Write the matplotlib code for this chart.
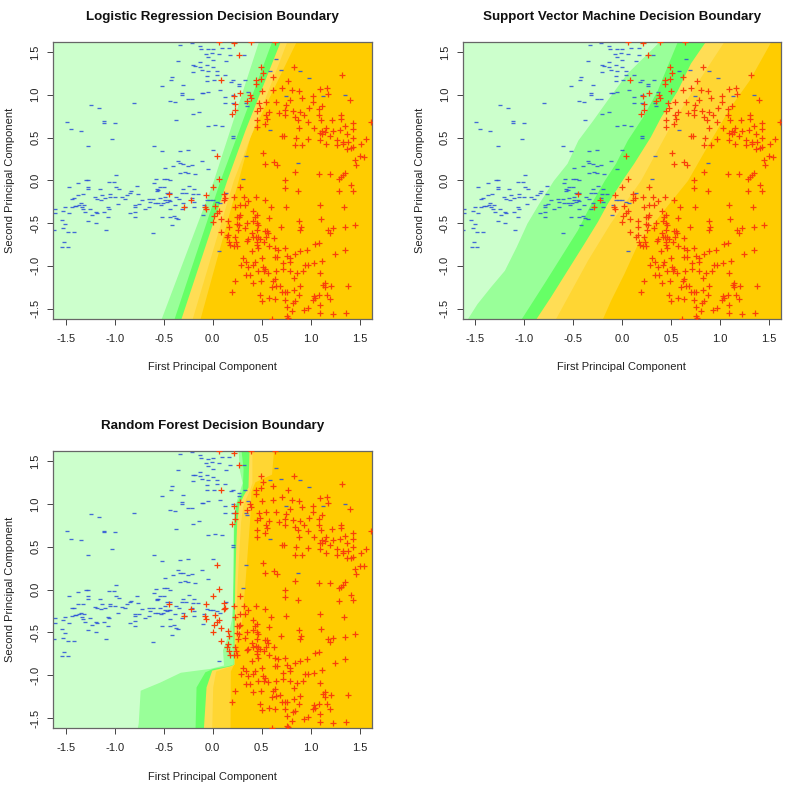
import matplotlib
matplotlib.use("Agg")
import matplotlib.pyplot as plt

plt.rcParams['font.family'] = ['Liberation Sans', 'DejaVu Sans']

red_x = [0.06,0.22,0.39,0.64,0.27,0.49,0.83,0.51,0.49,0.62,1.32,0.08,0.44,0.44,0.77,0.71,0.62,0.50,0.28,0.22,0.38,0.39,0.35,0.81,0.88,1.09,1.17,1.18,1.02,1.40,
0.23,0.23,0.20,0.47,0.54,0.65,0.79,0.91,1.02,1.12,0.745,0.74,0.82,0.89,0.98,1.08,0.48,0.45,0.57,0.68,0.74,0.84,0.87,0.93,1.08,1.22,1.31,1.31,0.54,0.55,0.53,0.45,0.455,1.61,
0.885,0.97,1.10,1.03,1.435,1.435,1.35,1.30,1.16,1.12,1.095,1.12,1.145,1.23,1.20,1.37,1.435,1.56,1.51,
0.705,0.73,0.85,0.975,0.84,0.91,1.095,1.16,1.27,1.27,1.33,1.33,1.385,1.435,1.37,1.41,
0.04,0.51,1.54,1.50,1.45,1.46,0.53,0.63,0.66,0.84,1.08,1.20,1.35,1.33,1.31,1.29,
0.065,0.74,0.0,0.28,0.74,0.875,1.41,1.435,1.29,
-0.45,-0.07,0.115,0.13,0.115,0.22,0.32,0.44,0.53,0.365,-0.22,-0.29,-0.08,-0.07,0.02,0.06,0.04,0.01,0.0,0.08,0.08,
0.23,0.28,0.33,0.28,0.595,0.745,1.09,1.34,0.57,0.41,0.455,0.43,0.25,0.265,1.105,0.885,0.90,0.89,1.18,1.23,1.20,1.35,1.455,0.70,
0.16,0.25,0.27,0.35,0.33,0.26,0.165,0.16,0.145,0.17,0.23,0.24,0.18,0.22,0.25,
0.415,0.45,0.465,0.45,0.53,0.55,0.56,0.54,0.63,0.405,0.365,0.354,
0.415,0.44,0.465,0.48,0.45,0.455,0.465,0.52,0.57,0.40,
0.635,0.67,0.74,0.76,0.635,0.66,0.79,0.79,0.84,0.89,0.96,1.045,1.08,1.345,1.25,1.11,0.94,0.975,1.03,0.72,
0.31,0.34,0.285,0.365,0.43,0.415,0.50,0.51,0.535,0.52,0.56,0.465,0.34,0.38,0.41,0.49,0.23,0.195,
0.72,0.645,0.79,0.855,0.925,0.83,1.09,0.635,0.62,0.60,0.65,0.69,0.89,1.145,1.13,1.145,1.205,1.385,
0.48,0.705,0.74,0.76,0.825,0.88,1.03,1.045,1.02,1.08,1.165,1.20,0.505,0.57,0.635,0.74,0.84,
0.815,0.755,0.805,0.755,0.93,0.975,1.09,1.09,1.23,1.355,0.61,0.77]
red_y = [1.62,1.60,1.62,1.62,1.46,1.33,1.33,1.26,1.19,1.21,1.23,1.17,1.17,1.12,1.16,1.08,1.05,1.04,1.02,0.98,1.0,0.96,0.93,1.05,1.04,1.07,1.08,1.01,0.98,0.94,
0.89,0.82,0.77,0.90,0.91,0.91,0.94,0.96,0.91,0.87,0.88,0.82,0.81,0.80,0.84,0.83,0.84,0.81,0.80,0.79,0.76,0.735,0.70,0.76,0.76,0.71,0.76,0.72,0.76,0.72,0.66,0.70,0.62,0.685,
0.61,0.685,0.70,0.61,0.665,0.595,0.63,0.59,0.61,0.58,0.55,0.54,0.57,0.58,0.52,0.54,0.50,0.48,0.43,
0.52,0.52,0.495,0.485,0.41,0.41,0.47,0.425,0.47,0.41,0.45,0.43,0.45,0.385,0.365,0.375,
0.29,0.315,0.275,0.28,0.24,0.18,0.19,0.22,0.185,0.10,0.08,0.08,0.09,0.06,0.035,0.015,
0.01,0.0,-0.075,-0.08,-0.085,-0.12,-0.06,-0.12,-0.13,
-0.165,-0.17,-0.16,-0.21,-0.23,-0.19,-0.19,-0.19,-0.23,-0.24,-0.23,-0.31,-0.31,-0.34,-0.30,-0.355,-0.38,-0.415,-0.49,-0.45,-0.60,
-0.315,-0.29,-0.29,-0.41,-0.315,-0.31,-0.29,-0.315,-0.435,-0.355,-0.40,-0.425,-0.43,-0.425,-0.455,-0.475,-0.54,-0.58,-0.58,-0.56,-0.61,-0.55,-0.52,-0.54,
-0.48,-0.51,-0.52,-0.50,-0.56,-0.58,-0.54,-0.64,-0.665,-0.715,-0.665,-0.715,-0.76,-0.765,-0.765,
-0.47,-0.495,-0.52,-0.58,-0.59,-0.59,-0.62,-0.665,-0.67,-0.62,-0.69,-0.705,
-0.665,-0.66,-0.665,-0.69,-0.715,-0.755,-0.795,-0.715,-0.765,-0.83,
-0.795,-0.81,-0.795,-0.885,-0.89,-0.89,-0.91,-0.95,-0.86,-0.83,-0.815,-0.745,-0.73,-0.815,-0.86,-0.94,-0.99,-0.99,-0.97,-0.97,
-0.91,-0.95,-0.99,-1.01,-0.95,-0.99,-0.91,-1.01,-1.03,-1.065,-1.08,-1.065,-1.105,-1.105,-1.20,-1.18,-1.18,-1.31,
-1.04,-1.065,-1.065,-1.085,-1.065,-1.145,-1.085,-1.155,-1.18,-1.25,-1.24,-1.235,-1.24,-1.195,-1.22,-1.25,-1.235,-1.235,
-1.34,-1.31,-1.31,-1.31,-1.28,-1.34,-1.35,-1.38,-1.40,-1.34,-1.34,-1.39,-1.41,-1.38,-1.39,-1.40,-1.415,
-1.435,-1.475,-1.53,-1.59,-1.51,-1.49,-1.455,-1.545,-1.56,-1.55,-1.62,-1.61]

blue_x = [-0.33,-0.21,-0.13,-0.12,-0.045,0.005,0.09,0.17,-0.07,-0.01,0.06,0.175,0.32,-0.045,0.005,0.14,-0.35,-0.13,-0.2,-0.18,-0.06,-0.13,0.005,-0.11,-0.045,0.04,-0.2,-0.06,0.04,0.125,-0.42,-0.425,-0.06,0.015,0.21,0.185,0.33,0.27,0.27,-0.52,-0.3,
0.075,-0.315,-0.11,-0.045,0.365,-0.095,-0.315,0.125,0.21,0.21,-0.25,-0.215,-0.435,-0.385,0.125,-0.8,-1.245,-1.16,0.34,0.345,-0.2,-0.135,-1.49,-1.11,-1.11,-1.0,-0.375,-0.045,0.025,0.09,-1.445,-1.345,-1.025,0.21,0.21,0.005,-1.27,-0.6,-0.52,-0.335,-0.25,-0.11,-0.35,-0.335,-0.3,-0.25,-0.21,-0.4,-0.485,-0.045,-0.25,-0.18,-0.28,-0.335,-0.99,
0.65,0.58,0.70,0.89,0.98,0.75,1.13,0.31,0.875,0.34,0.58,1.35,0.06,0.14,
-1.29,-1.27,-0.58,-0.5,-0.47,-0.44,-0.595,-1.06,-1.005,-1.37,-1.465,-1.27,-1.27,-1.15,-0.99,-0.96,-0.77,-0.54,-0.5,-0.57,-0.3,-0.24,-0.19,
-1.44,-1.415,-1.37,-1.325,-1.13,-1.05,-1.05,-1.2,-1.14,-1.18,-1.1,-1.0,-0.93,-0.895,-0.87,-0.84,-0.83,-0.76,-0.725,-0.65,-0.64,-0.605,-0.57,-0.555,-0.47,-0.435,-0.485,-0.54,-0.59,-0.555,-0.53,-0.505,-0.47,-0.45,-0.485,-0.435,-0.645,-0.69,-0.79,-0.79,-0.75,-0.84,-0.79,-0.79,-0.97,-1.065,-1.055,-1.105,-1.065,-1.19,-1.185,-1.19,-1.09,-1.27,-1.235,-1.25,-1.3,-1.345,-1.36,-1.335,-1.32,-1.31,-1.39,-1.44,-1.405,-1.47,-1.505,-1.525,-1.61,-1.61,-1.54,-1.505,-1.525,-1.48,-1.415,-1.62,-1.515,-1.535,-1.48,-0.605,
-0.515,-0.435,-0.395,-0.375,-0.35,-0.42,-0.315,-0.3,-0.28,-0.315,-0.27,-0.2,-0.155,-0.37,-0.34,-0.215,-0.195,-0.1,-0.09,-0.06,-0.03,0.005,0.04,0.075,-0.19,-0.385,-0.44]
blue_y = [1.58,1.61,1.57,1.54,1.53,1.54,1.55,1.55,1.48,1.49,1.48,1.46,1.46,1.44,1.41,1.40,1.40,1.38,1.345,1.335,1.345,1.33,1.32,1.29,1.28,1.28,1.27,1.22,1.23,1.23,1.21,1.17,1.165,1.17,1.17,1.15,1.17,1.125,1.10,1.10,1.11,
1.05,1.02,1.015,1.03,1.035,1.015,0.995,0.975,0.995,0.90,0.95,0.955,0.93,0.915,0.90,0.90,0.885,0.85,0.90,0.87,0.77,0.80,0.685,0.69,0.675,0.67,0.705,0.64,0.645,0.64,0.595,0.58,0.48,0.52,0.50,0.36,0.405,0.40,0.34,0.345,0.36,0.23,0.225,0.20,0.19,0.17,0.18,0.17,0.14,0.13,0.09,0.08,0.10,0.09,0.06,
1.42,1.28,1.29,1.28,1.20,0.98,0.98,0.02,0.20,0.29,0.59,1.0,-0.83,-0.15,
0.0,0.0,0.01,0.015,0.02,0.0,-0.035,-0.02,-0.015,-0.03,-0.08,-0.08,-0.105,-0.105,-0.08,-0.10,-0.07,-0.08,-0.08,-0.105,-0.105,-0.065,-0.105,
-0.22,-0.21,-0.17,-0.165,-0.17,-0.165,-0.19,-0.2,-0.23,-0.22,-0.21,-0.19,-0.2,-0.22,-0.17,-0.145,-0.13,-0.16,-0.23,-0.22,-0.25,-0.22,-0.12,-0.11,-0.145,-0.15,-0.19,-0.21,-0.27,-0.27,-0.29,-0.27,-0.25,-0.235,-0.235,-0.24,-0.31,-0.33,-0.29,-0.31,-0.28,-0.385,-0.43,-0.365,-0.275,-0.315,-0.335,-0.375,-0.43,-0.375,-0.385,-0.495,-0.58,-0.47,-0.41,-0.335,-0.375,-0.27,-0.29,-0.315,-0.34,-0.29,-0.3,-0.31,-0.3,-0.385,-0.315,-0.355,-0.33,-0.385,-0.46,-0.51,-0.56,-0.6,-0.6,-0.58,-0.725,-0.78,-0.775,-0.61,
-0.425,-0.425,-0.415,-0.445,-0.455,-0.525,-0.33,-0.27,-0.31,-0.15,-0.15,-0.16,-0.16,-0.19,-0.22,-0.21,-0.25,-0.405,-0.29,-0.23,-0.235,-0.235,-0.25,-0.27,-0.31,-0.29,-0.34]

# Class boundaries: (second component, first component) read along each edge
lr_y_light = [-1.62, 0.0, 1.62];           lr_x_light = [-0.527, 0.007, 0.466]
lr_y_mid = [-1.62, 0.0, 1.62];             lr_x_mid = [-0.395, 0.075, 0.60]
lr_y_bright = [-1.62, 0.0, 0.59, 1.62];    lr_x_bright = [-0.325, 0.143, 0.33, 0.687]
lr_y_yellow = [-1.62, 0.0, 1.62];          lr_x_yellow = [-0.21, 0.21, 0.755]
lr_y_gold = [-1.62, 0.0, 0.51, 1.62];      lr_x_gold = [-0.13, 0.26, 0.38, 0.85]

svm_y_light = [-1.62,-1.44,-1.24,-1.05,-0.775,-0.50,-0.27,0.0,0.20,0.47,0.70,0.94,1.25,1.62]
svm_x_light = [-1.58,-1.48,-1.34,-1.20,-1.08,-0.97,-0.85,-0.70,-0.56,-0.45,-0.30,-0.15,0.05,0.38]
svm_y_mid = [-1.62,-1.20,-0.89,-0.58,-0.31,0.0,0.20,0.47,0.74,1.05,1.33,1.62]
svm_x_mid = [-1.03,-0.795,-0.625,-0.455,-0.335,-0.18,-0.065,0.055,0.21,0.36,0.46,0.565]
svm_y_bright = [-1.62,-1.36,-1.05,-0.74,-0.48,-0.27,0.0,0.20,0.51,0.74,1.05,1.37,1.62]
svm_x_bright = [-0.88,-0.73,-0.56,-0.39,-0.25,-0.15,0.0,0.12,0.29,0.395,0.565,0.70,0.85]
svm_y_yellow = [-1.62,-0.93,-0.50,0.0,0.65,1.20,1.62]
svm_x_yellow = [-0.68,-0.35,-0.12,0.19,0.50,0.80,1.04]
svm_y_gold = [-1.62,-1.40,-1.09,-0.74,-0.39,0.0,0.42,0.85,1.17,1.62]
svm_x_gold = [-0.20,-0.115,0.02,0.16,0.395,0.67,0.88,1.10,1.30,1.52]

rf_y_light = [-1.62,-1.56,-1.175,-1.08,-0.965,-0.92,-0.88,-0.70,-0.55,-0.35,-0.18,0.10,0.79,0.99,1.25,1.41,1.62]
rf_x_light = [-0.77,-0.76,-0.74,-0.54,-0.33,-0.03,0.11,0.10,0.15,0.19,0.20,0.205,0.21,0.228,0.30,0.27,0.26]
rf_y_mid = [-1.62,-1.137,-0.96,-0.92,-0.89,-0.87,-0.30,0.10,0.79,0.99,1.15,1.41,1.62]
rf_x_mid = [-0.18,-0.17,-0.08,0.0,0.15,0.21,0.205,0.205,0.215,0.235,0.30,0.31,0.29]
rf_y_bright = [-1.62,-1.137,-0.94,-0.89,-0.87,-0.30,0.10,0.50,0.79,0.99,1.10,1.20,1.62]
rf_x_bright = [-0.095,-0.068,-0.01,0.177,0.215,0.22,0.225,0.235,0.245,0.265,0.31,0.36,0.37]
rf_y_yellow = [-1.62,-1.137,-0.95,-0.89,-0.87,-0.30,0.10,0.50,0.80,1.00,1.15,1.25,1.62]
rf_x_yellow = [-0.01,0.0,0.03,0.19,0.22,0.235,0.25,0.27,0.285,0.31,0.37,0.40,0.40]
rf_y_gold = [-1.62,-0.95,-0.88,-0.60,-0.53,-0.30,0.10,0.87,1.15,1.26,1.35,1.62]
rf_x_gold = [0.177,0.18,0.21,0.24,0.28,0.30,0.33,0.38,0.39,0.43,0.60,0.62]

tick_values = [-1.5, -1.0, -0.5, 0.0, 0.5, 1.0, 1.5]
tick_labels = ['-1.5', '-1.0', '-0.5', '0.0', '0.5', '1.0', '1.5']
titles = ['Logistic Regression Decision Boundary',
          'Support Vector Machine Decision Boundary',
          'Random Forest Decision Boundary']
x_label = 'First Principal Component'
y_label = 'Second Principal Component'
band_colors = ['#FFD633', '#FFDD55', '#66FF66', '#99FF99', '#CCFFCC']

panels = [
    [(lr_y_gold, lr_x_gold), (lr_y_yellow, lr_x_yellow), (lr_y_bright, lr_x_bright), (lr_y_mid, lr_x_mid), (lr_y_light, lr_x_light)],
    [(svm_y_gold, svm_x_gold), (svm_y_yellow, svm_x_yellow), (svm_y_bright, svm_x_bright), (svm_y_mid, svm_x_mid), (svm_y_light, svm_x_light)],
    [(rf_y_gold, rf_x_gold), (rf_y_yellow, rf_x_yellow), (rf_y_bright, rf_x_bright), (rf_y_mid, rf_x_mid), (rf_y_light, rf_x_light)],
]
boxes = [(53.3, 41.7, 371.7, 319.0), (462.7, 41.7, 780.7, 319.0), (53.3, 451.0, 371.7, 728.3)]

W = 790
fig = plt.figure(figsize=(W / 100, W / 100), dpi=100, facecolor='white')
xlo, xhi = -1.626, 1.622
ylo, yhi = -1.62, 1.62

for title, bands, (l, t, r, b) in zip(titles, panels, boxes):
    ax = fig.add_axes([l / W, 1 - b / W, (r - l) / W, (b - t) / W])
    ax.set_facecolor('#FFCC00')
    for color, (by, bx) in zip(band_colors, bands):
        ax.fill_betweenx(by, xlo, bx, color=color, lw=0, zorder=1)
    ax.plot(blue_x, blue_y, linestyle='none', marker='_', ms=2.7, mew=0.95,
            color='#2A50D8', alpha=0.85, zorder=2)
    ax.plot(red_x, red_y, linestyle='none', marker='+', ms=4.6, mew=0.9,
            color='#F8400A', zorder=3)
    ax.set_xlim(xlo, xhi)
    ax.set_ylim(ylo, yhi)
    ax.set_xticks(tick_values, tick_labels)
    ax.set_yticks(tick_values, tick_labels)
    ax.tick_params(axis='x', length=4.3, width=0.7, color='#444444', labelsize=8,
                   labelcolor='#222222', pad=6.5)
    ax.tick_params(axis='y', length=4.3, width=0.7, color='#444444', labelsize=8,
                   labelcolor='#222222', pad=5)
    for lab in ax.get_yticklabels():
        lab.set_rotation(90)
        lab.set_va('center')
    for s in ax.spines.values():
        s.set_color('#666666')
        s.set_linewidth(0.9)
    ax.set_xlabel(x_label, fontsize=8, color='#222222', labelpad=13.2)
    ax.set_ylabel(y_label, fontsize=8, color='#222222', labelpad=11)
    ax.set_title(title, fontsize=9.6, fontweight='bold', color='#111111', pad=15.5)

fig.savefig('out.png', dpi=100, facecolor='white')
